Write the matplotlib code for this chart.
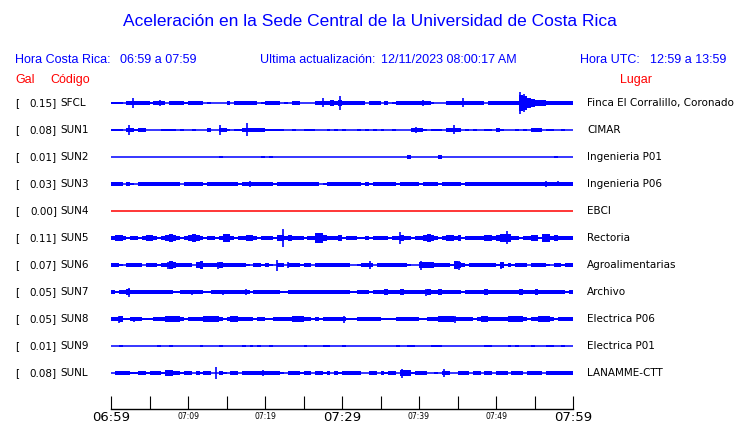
import matplotlib.pyplot as plt
import numpy as np

# estaciones (de arriba hacia abajo)
codes = ['SFCL', 'SUN1', 'SUN2', 'SUN3', 'SUN4', 'SUN5', 'SUN6', 'SUN7', 'SUN8', 'SUN9', 'SUNL']
peaks = [0.15, 0.08, 0.01, 0.03, 0.00, 0.11, 0.07, 0.05, 0.05, 0.01, 0.08]
places = ['Finca El Corralillo, Coronado', 'CIMAR', 'Ingenieria P01', 'Ingenieria P06', 'EBCI',
          'Rectoria', 'Agroalimentarias', 'Archivo', 'Electrica P06', 'Electrica P01', 'LANAMME-CTT']
trace_colors = ['#0000ff'] * 4 + ['#ff0000'] + ['#0000ff'] * 6

# envolvente: un digito por cada 30 s (nivel de semi-amplitud)
env_sfcl = ("1110222222" "1222022221" "2222010000" "2022222201" "2222010220" "0002222323"
            "2222220222" "0201222222" "2221000222" "2222222022" "2222229754" "3332222222")
env_sun1 = ("1110221220" "0001111010" "0100020022" "1011222222" "1111100100" "1110001010"
            "1000101010" "1001000022" "2101110222" "2010100110" "2100010102" "2201100100")
env_sun2 = ("0000000000" "0000000000" "0000000010" "0000000001" "0100000000" "0000000000"
            "0000000000" "0000000200" "0000020000" "0000000000" "0000000000" "0000010000")
env_sun3 = ("2220210222" "2222222202" "2222122222" "2221222222" "2212222222" "2222012222"
            "2222212122" "2222122222" "1222212222" "2122222222" "2222222222" "2222222222")
env_sun4 = "0" * 120
env_sun5 = ("2332122123" "3212343212" "3432122124" "4212233212" "2213323222" "1225532223"
            "1222112122" "2212232212" "2343212332" "3122222332" "3444221223" "3144232222")
env_sun6 = ("2210222202" "2212243222" "2034222232" "2222210221" "2102202221" "2202222222"
            "2200122202" "2222222100" "3333222214" "3212222222" "1312122202" "2221022122")
env_sun7 = ("2122322222" "2222221122" "2222112222" "2222221222" "2222112222" "2222222222"
            "2211222122" "2322232222" "2232232222" "2122222322" "2222223222" "3222222212")
env_sun8 = ("2231122211" "1222333321" "2222333321" "2332222122" "1122222333" "2212122222"
            "2111222222" "1111222222" "1122233332" "2222123322" "2223333212" "2333212222")
env_sun9 = ("0010000000" "0010010000" "0001000010" "0000101010" "0100000000" "1000011000"
            "1000000000" "0000100110" "0001110000" "0000000110" "0001010001" "0001100100")
env_sunl = ("0222211221" "2221332212" "2021220021" "0220222222" "2222102221" "2202212021"
            "2222200220" "2122033312" "2200102200" "2220220220" "2220222022" "2202222222")
envelopes = [env_sfcl, env_sun1, env_sun2, env_sun3, env_sun4, env_sun5,
             env_sun6, env_sun7, env_sun8, env_sun9, env_sunl]

# picos aislados: (minuto desde 06:59, semi-amplitud en pixeles)
spk_sfcl = [(2.9, 5), (6.4, 3), (27.5, 4.5), (29.7, 7), (40.5, 3), (45.7, 4.5), (53.1, 11), (53.6, 9)]
spk_sun1 = [(2.4, 5), (14.2, 5), (17.6, 6.5), (39.6, 3), (44.6, 4.5)]
spk_sun3 = [(18.0, 3), (56.5, 3), (58.0, 2.5)]
spk_sun5 = [(22.4, 9), (37.5, 6), (51.4, 6.5)]
spk_sun6 = [(7.4, 3.5), (13.9, 3.5), (21.5, 5.5), (23.0, 3), (33.6, 4), (40.2, 4.5), (45.2, 4.5), (50.6, 3.5)]
spk_sun7 = [(2.4, 4.5), (10.5, 2.5), (14.5, 2.5), (17.5, 3), (35.6, 3), (40.9, 3.5)]
spk_sun8 = [(1.1, 3.5), (3.0, 2.5), (13.5, 3), (24.2, 3), (30.3, 3.5), (44.7, 3.5), (53.0, 3)]
spk_sunl = [(7.2, 2.5), (13.6, 6), (19.8, 3), (37.8, 4.5), (43.2, 4)]
spikes = [spk_sfcl, spk_sun1, [], spk_sun3, [], spk_sun5, spk_sun6, spk_sun7, spk_sun8, [], spk_sunl]

tick_minutes = list(range(0, 61, 5))
tick_labels = ['06:59', '', '07:09', '', '07:19', '', '07:29', '', '07:39', '', '07:49', '', '07:59']
big_labels = ['06:59', '07:29', '07:59']

W, H = 740, 423
BLUE = '#0000ff'
RED = '#ff0000'
PX = 1.0 / 27          # un pixel en unidades de traza


def fx(px):
    return px / W


def fy(py):
    return 1 - py / H


def level_to_px(d):
    return np.where(d > 0, 0.6 + 0.85 * d, 0.0)


fig = plt.figure(figsize=(W / 100, H / 100), dpi=100)

# textos de cabecera
fig.text(fx(370), fy(22), 'Aceleración en la Sede Central de la Universidad de Costa Rica',
         color=BLUE, fontsize=12.5, family='Liberation Sans', ha='center', va='center')
hdr = dict(color=BLUE, fontsize=9, family='Liberation Sans', va='center')
fig.text(fx(15), fy(60), 'Hora Costa Rica:', **hdr)
fig.text(fx(120), fy(60), '06:59 a 07:59', **hdr)
fig.text(fx(260), fy(60), 'Ultima actualización:', **hdr)
fig.text(fx(381), fy(60), '12/11/2023 08:00:17 AM', **hdr)
fig.text(fx(580), fy(60), 'Hora UTC:', **hdr)
fig.text(fx(650), fy(60), '12:59 a 13:59', **hdr)
red = dict(color=RED, fontsize=9, family='Liberation Sans', va='center')
fig.text(fx(15), fy(80), 'Gal', **red)
fig.text(fx(50), fy(80), 'Código', **red)
fig.text(fx(636), fy(80), 'Lugar', ha='center', **red)

# trazas
ax = fig.add_axes([fx(111), fy(386.5), (573 - 111) / W, (386.5 - 89.5) / H])
ax.set_xlim(0, 60)
ax.set_ylim(10.5, -0.5)
ax.axis('off')

edges = np.linspace(0, 60, 121)
xs = np.repeat(edges, 2)[1:-1]
for i, env in enumerate(envelopes):
    col = trace_colors[i]
    amp = level_to_px(np.array([int(c) for c in env], dtype=float)) * PX
    hh = np.repeat(amp, 2)
    ax.fill_between(xs, i - hh, i + hh, color=col, lw=0)
    ax.hlines(i, 0, 60, color=col, lw=1.1)
    for m, h in spikes[i]:
        ax.vlines(m, i - h * PX, i + h * PX, color=col, lw=1.2)

    yy = 103 + 27 * i
    lab = dict(fontsize=7.5, family='DejaVu Sans', color='black', va='center')
    fig.text(fx(15), fy(yy), '[', **lab)
    fig.text(fx(57), fy(yy), f'{peaks[i]:.2f}]', ha='right', **lab)
    fig.text(fx(60), fy(yy), codes[i], **lab)
    fig.text(fx(587), fy(yy), places[i], **lab)

# eje de tiempo
tax = fig.add_axes([fx(111), fy(409), (573 - 111) / W, 13 / H])
tax.set_xlim(0, 60)
tax.set_ylim(0, 1)
for s in ['top', 'left', 'right']:
    tax.spines[s].set_visible(False)
tax.spines['bottom'].set_linewidth(1.0)
tax.set_yticks([])
tax.set_xticks(tick_minutes)
tax.set_xticklabels(tick_labels)
tax.tick_params(axis='x', direction='in', length=13 / 1.389, width=0.8, pad=1.5)
for t in tax.get_xticklabels():
    if t.get_text() in big_labels:
        t.set_fontsize(9.5)
    else:
        t.set_fontsize(5.5)
        t.set_y(-0.1)

fig.savefig('out.png', dpi=100)
